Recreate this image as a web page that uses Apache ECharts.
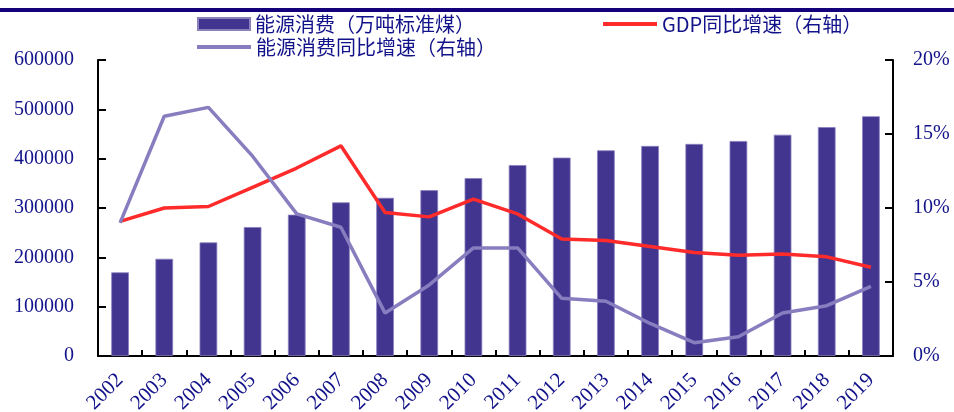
<!DOCTYPE html>
<html>
<head>
<meta charset="utf-8">
<script src="https://cdn.jsdelivr.net/npm/echarts@6/dist/echarts.min.js"></script>
<style>
html,body{margin:0;padding:0;background:#fff;}
#chart{width:954px;height:412px;}
</style>
</head>
<body>
<div id="chart"></div>
<script>
var years = ['2002','2003','2004','2005','2006','2007','2008','2009','2010','2011','2012','2013','2014','2015','2016','2017','2018','2019'];
var energyConsumption = [169577,197083,230281,261369,286467,311442,320611,336126,360648,387043,402138,416913,425806,429905,435819,448529,464000,486000];
var gdpGrowth = [9.1,10.0,10.1,11.4,12.7,14.2,9.7,9.4,10.6,9.6,7.9,7.8,7.4,7.0,6.8,6.9,6.7,6.0];
var energyGrowth = [9.0,16.2,16.8,13.5,9.6,8.7,2.9,4.8,7.3,7.3,3.9,3.7,2.2,0.9,1.3,2.9,3.4,4.7];
var leftTicks = {min:0, max:600000, interval:100000};
var rightTicks = {min:0, max:20, interval:5};

var navy = '#12128a';
var barColor = '#42358f';
var redColor = '#ff2b2b';
var lavColor = '#877dbf';
var serif = '"Liberation Serif","Times New Roman",serif';
var cjk = '"Noto Sans CJK SC","Liberation Serif",serif';

var chart = echarts.init(document.getElementById('chart'));
var legendText = {fontFamily: cjk, fontSize: 20, color: navy};
chart.setOption({
  animation: false,
  graphic: [{type:'rect', left:0, top:8, shape:{width:954, height:4}, style:{fill:'#14007a'}, silent:true}],
  legend: [
    {data:[{name:'能源消费（万吨标准煤）', icon:'rect'}], left:192, top:9, itemWidth:52, itemHeight:12, itemGap:6, textStyle:legendText},
    {data:[{name:'GDP同比增速（右轴）', icon:'rect'}], left:598, top:9, itemWidth:54, itemHeight:4, textStyle:legendText},
    {data:[{name:'能源消费同比增速（右轴）', icon:'rect'}], left:192, top:32, itemWidth:54, itemHeight:4, textStyle:legendText}
  ],
  grid: {left:98, right:61, top:60, bottom:56, containLabel:false, outerBoundsMode:'none'},
  xAxis: {
    type:'category', data: years, boundaryGap:true,
    axisLine:{show:true, lineStyle:{color:'#000', width:2}},
    axisTick:{show:true, inside:true, length:6, lineStyle:{color:'#000', width:2}},
    axisLabel:{rotate:45, interval:0, margin:21, fontFamily:serif, fontSize:21, color:navy, hideOverlap:false},
    splitLine:{show:false}
  },
  yAxis: [
    {type:'value', min:leftTicks.min, max:leftTicks.max, interval:leftTicks.interval,
     axisLine:{show:true, lineStyle:{color:'#000', width:2}},
     axisTick:{show:true, inside:true, length:8, lineStyle:{color:'#000', width:2}},
     axisLabel:{fontFamily:serif, fontSize:20, color:navy, margin:24, formatter:function(v){return String(v);}},
     splitLine:{show:false}},
    {type:'value', min:rightTicks.min, max:rightTicks.max, interval:rightTicks.interval, position:'right',
     axisLine:{show:true, lineStyle:{color:'#000', width:2}},
     axisTick:{show:true, inside:true, length:8, lineStyle:{color:'#000', width:2}},
     axisLabel:{fontFamily:serif, fontSize:20, color:navy, margin:20, formatter:'{value}%'},
     splitLine:{show:false}}
  ],
  series: [
    {name:'能源消费（万吨标准煤）', type:'bar', data: energyConsumption, yAxisIndex:0, barWidth:'40%',
     itemStyle:{color:barColor, borderColor:'#8a80c0', borderWidth:0.8}},
    {name:'GDP同比增速（右轴）', type:'line', data: gdpGrowth, yAxisIndex:1, symbol:'none',
     lineStyle:{color:redColor, width:3.5}, itemStyle:{color:redColor}},
    {name:'能源消费同比增速（右轴）', type:'line', data: energyGrowth, yAxisIndex:1, symbol:'none',
     lineStyle:{color:lavColor, width:3.5}, itemStyle:{color:lavColor}}
  ]
});
</script>
</body>
</html>
